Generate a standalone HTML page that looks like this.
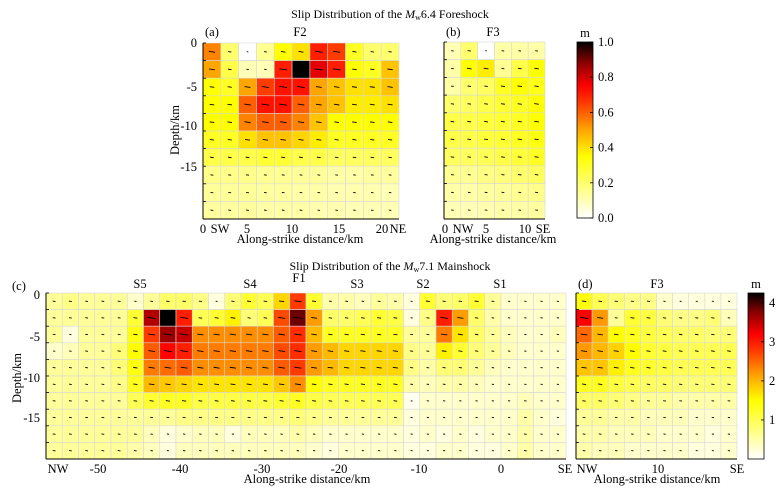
<!DOCTYPE html>
<html><head><meta charset="utf-8"><style>
body{margin:0;background:#fff}
svg{display:block;font-family:"Liberation Serif",serif}
</style></head><body>
<svg id="fig" width="778" height="493" viewBox="0 0 778 493">
<defs><linearGradient id="cb" x1="0" y1="1" x2="0" y2="0">
<stop offset="0" stop-color="#ffffff"/><stop offset="0.35" stop-color="#ffff00"/><stop offset="0.5" stop-color="#ffa500"/><stop offset="0.65" stop-color="#ff3c00"/><stop offset="0.75" stop-color="#ff0000"/><stop offset="0.88" stop-color="#8c0000"/><stop offset="1" stop-color="#000000"/></linearGradient></defs>
<g font-size="12" text-anchor="middle">
<text x="390" y="18">Slip Distribution of the <tspan font-style="italic">M</tspan><tspan font-size="8" dy="2">w</tspan><tspan dy="-2">6.4 Foreshock</tspan></text>
<text x="390" y="270">Slip Distribution of the <tspan font-style="italic">M</tspan><tspan font-size="8" dy="2">w</tspan><tspan dy="-2">7.1 Mainshock</tspan></text>
</g>
<g font-size="12.5">
<text x="205" y="36">(a)</text>
<text x="300" y="36" text-anchor="middle">F2</text>
<text x="446" y="36">(b)</text>
<text x="493" y="36" text-anchor="middle">F3</text>
<text x="300" y="243" text-anchor="middle">Along-strike distance/km</text>
<text x="493" y="243" text-anchor="middle">Along-strike distance/km</text>
<text transform="translate(179,130) rotate(-90)" text-anchor="middle">Depth/km</text>
<text x="12" y="290">(c)</text>
<text x="299" y="282" text-anchor="middle">F1</text>
<text x="140" y="288" text-anchor="middle">S5</text>
<text x="250" y="288" text-anchor="middle">S4</text>
<text x="357" y="288" text-anchor="middle">S3</text>
<text x="423" y="288" text-anchor="middle">S2</text>
<text x="500" y="288" text-anchor="middle">S1</text>
<text x="578" y="288">(d)</text>
<text x="657" y="288" text-anchor="middle">F3</text>
<text x="307" y="483" text-anchor="middle">Along-strike distance/km</text>
<text x="657" y="483" text-anchor="middle">Along-strike distance/km</text>
<text transform="translate(21,378) rotate(-90)" text-anchor="middle">Depth/km</text>
</g>
<g id="plots"></g>
</svg>
<script>
const slipA=[
[0.55,0.2,0.0,0.15,0.35,0.4,0.7,0.65,0.3,0.2,0.2],
[0.5,0.25,0.1,0.1,0.7,1.0,0.78,0.7,0.35,0.3,0.45],
[0.35,0.3,0.5,0.65,0.72,0.72,0.5,0.45,0.4,0.4,0.45],
[0.35,0.35,0.6,0.72,0.72,0.6,0.5,0.45,0.38,0.38,0.4],
[0.35,0.35,0.55,0.6,0.6,0.55,0.45,0.35,0.35,0.35,0.35],
[0.3,0.3,0.4,0.45,0.45,0.42,0.38,0.3,0.3,0.3,0.3],
[0.25,0.25,0.25,0.28,0.28,0.25,0.25,0.22,0.22,0.22,0.22],
[0.16,0.16,0.16,0.15,0.15,0.14,0.14,0.12,0.12,0.13,0.13],
[0.14,0.14,0.14,0.13,0.13,0.12,0.12,0.11,0.11,0.11,0.1],
[0.13,0.13,0.13,0.12,0.12,0.12,0.11,0.11,0.1,0.1,0.1]];
const slipB=[
[0.1,0.2,0.0,0.12,0.12,0.12],
[0.12,0.35,0.38,0.15,0.25,0.35],
[0.12,0.2,0.22,0.3,0.35,0.32],
[0.2,0.22,0.25,0.28,0.3,0.35],
[0.25,0.25,0.27,0.28,0.3,0.35],
[0.25,0.25,0.27,0.28,0.3,0.33],
[0.22,0.22,0.23,0.25,0.27,0.3],
[0.15,0.15,0.17,0.18,0.2,0.22],
[0.12,0.12,0.13,0.14,0.15,0.16],
[0.1,0.1,0.11,0.12,0.12,0.13]];
const slipC=[
[0.6,0.7,0.6,0.6,0.6,0.3,0.6,0.9,0.9,0.7,0.2,0.8,1.2,1.0,1.8,2.8,1.2,0.5,0.5,0.4,0.6,0.5,0.2,1.2,0.8,0.9,1.2,0.6,0.3,0.3,0.3,0.3],
[0.6,0.6,0.6,0.6,0.6,1.2,3.6,4.3,3.0,1.0,1.2,1.6,0.8,1.0,2.7,3.9,2.2,0.9,0.9,1.0,1.2,1.1,0.2,0.7,3.0,2.2,0.9,0.5,0.3,0.3,0.3,0.3],
[0.6,0.2,0.6,0.6,0.6,1.4,2.8,3.7,3.5,2.3,2.3,2.3,2.3,2.3,2.6,2.9,2.0,1.3,1.3,1.3,1.3,1.3,0.6,0.6,2.4,1.7,0.9,0.6,0.4,0.3,0.3,0.4],
[0.3,0.4,0.6,0.6,0.8,1.5,2.6,3.2,3.0,2.4,2.4,2.4,2.4,2.4,2.7,2.9,2.2,2.0,1.8,1.8,1.8,1.8,0.7,0.6,1.6,1.2,0.8,0.6,0.4,0.3,0.3,0.3],
[0.6,0.6,0.6,0.6,0.8,1.4,2.4,2.5,2.6,2.3,2.3,2.3,2.3,2.3,2.6,2.8,2.2,2.0,1.8,1.8,1.8,1.8,0.7,0.5,0.8,0.8,0.6,0.4,0.3,0.3,0.3,0.3],
[0.6,0.6,0.6,0.6,0.7,1.3,2.0,1.9,1.8,1.7,1.7,1.7,1.7,1.7,1.9,2.3,1.5,1.3,1.3,1.3,1.3,1.3,0.5,0.4,0.5,0.5,0.4,0.3,0.3,0.3,0.3,0.3],
[0.6,0.6,0.6,0.6,0.6,1.0,1.2,1.3,1.3,1.1,1.1,1.1,1.1,1.1,1.2,1.3,1.1,1.0,1.0,1.0,1.0,1.0,0.1,0.3,0.3,0.3,0.3,0.3,0.3,0.4,0.3,0.3],
[0.6,0.6,0.6,0.6,0.6,0.6,0.6,0.6,0.7,0.7,0.7,0.7,0.7,0.7,0.7,0.8,0.7,0.6,0.6,0.6,0.6,0.6,0.2,0.3,0.3,0.3,0.3,0.3,0.3,0.5,0.3,0.2],
[0.6,0.6,0.6,0.6,0.6,0.6,0.4,0.2,0.3,0.4,0.4,0.2,0.4,0.4,0.4,0.5,0.4,0.3,0.3,0.3,0.3,0.3,0.2,0.3,0.2,0.3,0.2,0.3,0.3,0.5,0.3,0.3],
[0.6,0.6,0.6,0.6,0.6,0.5,0.4,0.2,0.4,0.4,0.4,0.4,0.4,0.4,0.4,0.4,0.3,0.2,0.3,0.3,0.3,0.3,0.2,0.2,0.3,0.3,0.2,0.2,0.3,0.5,0.3,0.3]];
const slipD=[
[1.4,1.0,0.8,0.7,0.7,0.3,0.2,0.2,0.2,0.2],
[3.2,2.2,0.6,1.2,1.1,0.8,0.7,0.7,0.8,0.4],
[2.5,2.0,1.5,1.3,1.1,1.0,0.9,0.9,0.8,0.8],
[2.2,2.0,1.8,1.5,1.2,1.1,1.0,1.0,1.0,1.0],
[1.9,1.9,1.6,1.3,1.2,1.1,1.0,1.0,1.0,1.0],
[1.3,1.3,1.1,1.0,0.9,0.9,0.8,0.8,0.8,0.8],
[0.9,0.9,0.8,0.7,0.6,0.6,0.5,0.5,0.5,0.5],
[0.6,0.6,0.5,0.5,0.4,0.4,0.4,0.3,0.3,0.3],
[0.5,0.5,0.4,0.4,0.4,0.3,0.3,0.3,0.2,0.3],
[0.5,0.4,0.4,0.3,0.3,0.3,0.3,0.2,0.2,0.3]];
const depthTicks=["0","-5","-10","-15"];
const xTicksA=["0","SW","5","10","15","20","NE"];
const xTicksB=["0","NW","5","10","SE"];
const xTicksC=["NW","-50","-40","-30","-20","-10","0","SE"];
const xTicksD=["NW","10","SE"];
const cbTicks1=["0.0","0.2","0.4","0.6","0.8","1.0"];
const cbTicks2=["1","2","3","4"];

const NS='http://www.w3.org/2000/svg';
const root=document.getElementById('plots');
function mk(t,a,p){const e=document.createElementNS(NS,t);for(const k in a)e.setAttribute(k,a[k]);(p||root).appendChild(e);return e;}
const stops=[[0,255,255,255],[0.35,255,255,0],[0.5,255,165,0],[0.65,255,60,0],[0.75,255,0,0],[0.88,140,0,0],[1,0,0,0]];
function cmap(v){v=Math.max(0,Math.min(1,v));for(let i=1;i<stops.length;i++){if(v<=stops[i][0]){const a=stops[i-1],b=stops[i],t=(v-a[0])/(b[0]-a[0]);return `rgb(${Math.round(a[1]+t*(b[1]-a[1]))},${Math.round(a[2]+t*(b[2]-a[2]))},${Math.round(a[3]+t*(b[3]-a[3]))})`;}}return '#000';}

function panel(name,data,vmax,x0,y0,x1,y1,xt,xpos,yTickY){
  const g=mk('g',{});
  
  
  const R=data.length,C=data[0].length,cw=(x1-x0)/C,ch=(y1-y0)/R;
  for(let r=0;r<R;r++)for(let c=0;c<C;c++){
    const v=data[r][c]/vmax;
    const cell=mk('rect',{x:x0+c*cw,y:y0+r*ch,width:cw,height:ch,fill:cmap(v),stroke:'#d8d8d8','stroke-width':0.6},g);
    
    
    const cx=x0+(c+0.5)*cw,cy=y0+(r+0.5)*ch,L=0.8+v*4.2;
    const ar=mk('line',{x1:cx-L,y1:cy-L*0.15,x2:cx+L,y2:cy+L*0.15,stroke:'#000','stroke-width':0.9},g);
    
    
  }
  mk('line',{x1:x0,y1:y0,x2:x0,y2:y1,stroke:'#000','stroke-width':1},g);
  mk('line',{x1:x0,y1:y1,x2:x1,y2:y1,stroke:'#000','stroke-width':1},g);
  for(let r=0;r<=R;r++)mk('line',{x1:x0,y1:y0+r*ch,x2:x0+3,y2:y0+r*ch,stroke:'#000','stroke-width':0.8},g);
  xt.forEach((t,i)=>{const tx=mk('text',{x:xpos[i],y:y1+14,'font-size':12.5,'text-anchor':'middle'},g);tx.textContent=t;
    
    });
  if(yTickY)depthTicks.forEach((t,i)=>{const tx=mk('text',{x:x0-6,y:yTickY[i]+4,'font-size':12.5,'text-anchor':'end'},g);tx.textContent=t;
    
    });
}
panel('slip-panel-a',slipA,1.0,203,43,399,219,xTicksA,[203,220,247,292,339,382,398],[43,87,126,167]);
panel('slip-panel-b',slipB,1.0,444,42,545,219,xTicksB,[445,463,486,525,543],null);
panel('slip-panel-c',slipC,4.3,46,293,566,459,xTicksC,[58,98,180,262,339,419,501,565],[295,337,378,418]);
panel('slip-panel-d',slipD,4.25,576,293,737,459,xTicksD,[587,658,737],null);

function colorbar(name,x,y0,y1,ticks,vals,vmax,unitX,unitY){
  const g=mk('g',{});
  
  
  mk('rect',{x:x,y:y0,width:16,height:y1-y0,fill:'url(#cb)',stroke:'#000','stroke-width':0.8},g);
  ticks.forEach((t,i)=>{const yy=y1-(vals[i]/vmax)*(y1-y0);
    mk('line',{x1:x+16,y1:yy,x2:x+13,y2:yy,stroke:'#000','stroke-width':0.8},g);
    const tx=mk('text',{x:x+21,y:yy+4,'font-size':12.5},g);tx.textContent=t;
    
    });
  const u=mk('text',{x:unitX,y:unitY,'font-size':12.5,'text-anchor':'middle'},g);u.textContent='m';
  
  
}
colorbar('colorbar-foreshock',577,42,218,cbTicks1,cbTicks1.map(Number),1.0,585,37);
colorbar('colorbar-mainshock',748,293,459,cbTicks2,cbTicks2.map(Number),4.25,756,288);
</script>
</body></html>
